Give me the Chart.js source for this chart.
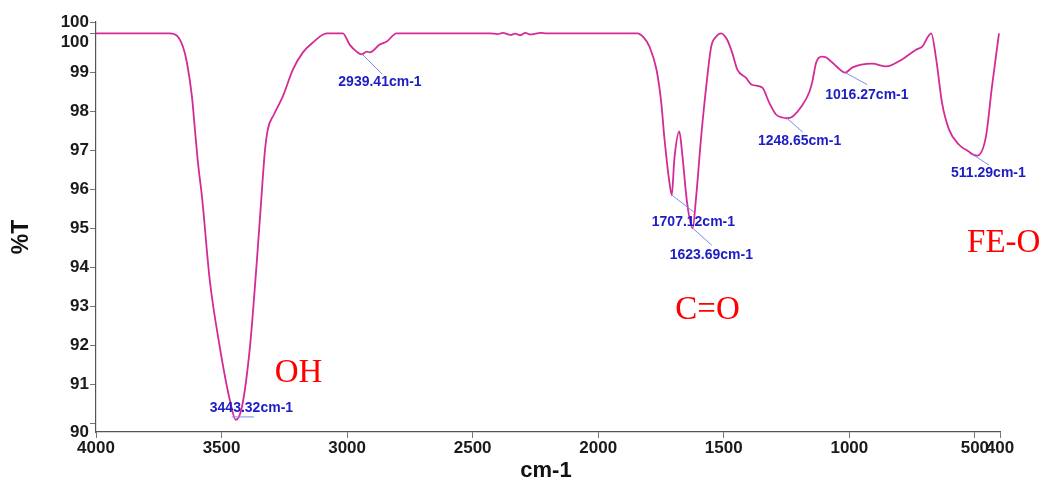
<!DOCTYPE html>
<html>
<head>
<meta charset="utf-8">
<script src="https://cdn.jsdelivr.net/npm/chart.js@4/dist/chart.umd.min.js"></script>
<style>
  html, body { margin: 0; padding: 0; background: #fff; }
  #wrap { width: 1047px; height: 480px; position: relative; }
</style>
</head>
<body>
<div id="wrap"><canvas id="ftir"></canvas></div>
<script>
// spectrum: wavenumber (cm-1) and transmittance (%T)
const wavenumbers = [4000, 3800, 3706, 3678, 3654, 3638, 3618, 3606, 3594, 3586, 3578, 3547, 3507, 3467, 3443,
  3419, 3387, 3360, 3340, 3328, 3316, 3292, 3256, 3216, 3176, 3137, 3081, 3017, 2990, 2962, 2942, 2922, 2910,
  2870, 2842, 2803, 2600, 2432, 2400, 2380, 2350, 2330, 2310, 2290, 2270, 2250, 2230, 2206, 2000, 1844,
  1820, 1796, 1768, 1749, 1737, 1717, 1707, 1697, 1677, 1666, 1646, 1624, 1610, 1590, 1570, 1550, 1531, 1511,
  1487, 1467, 1446, 1412, 1388, 1347, 1319, 1291, 1267, 1249, 1227, 1191, 1160, 1148, 1132, 1110, 1092, 1068,
  1028, 1016, 989, 909, 853, 790, 734, 710, 674, 654, 631, 603, 563, 523, 511, 491, 456, 432, 404];
const transmittance = [100.0, 100.0, 100.0, 99.94, 99.66, 99.25, 98.38, 97.53, 96.68, 96.24, 95.81, 93.67, 91.95, 90.59, 90.08,
  90.41, 91.95, 94.11, 95.9, 96.94, 97.53, 97.91, 98.38, 99.07, 99.51, 99.76, 100.0, 100.0, 99.71, 99.53, 99.46, 99.53, 99.51,
  99.71, 99.79, 100.0, 100.0, 100.0, 99.98, 100.01, 99.96, 99.99, 99.95, 100.01, 99.97, 99.99, 100.01, 100.0, 100.0, 100.0,
  99.9, 99.66, 99.07, 98.22, 97.35, 96.2, 95.85, 96.76, 97.48, 96.94, 95.65, 95.0, 95.81, 97.35, 98.63, 99.66, 99.91, 100.0,
  99.84, 99.51, 99.07, 98.86, 98.68, 98.61, 98.22, 97.91, 97.84, 97.82, 97.86, 98.12, 98.48, 98.74, 99.25, 99.4, 99.38, 99.25,
  99.02, 98.99, 99.12, 99.22, 99.15, 99.33, 99.58, 99.66, 100.0, 99.33, 98.22, 97.53, 97.14, 96.96, 96.9, 96.86, 97.35, 98.63, 100.0];

const xTicks = [4000, 3500, 3000, 2500, 2000, 1500, 1000, 500, 400];
const yTicks = [90, 91, 92, 93, 94, 95, 96, 97, 98, 99, 100, 100.29];

// peak labels
const peakWn = [3443.32, 2939.41, 1707.12, 1623.69, 1248.65, 1016.27, 511.29];
const peakT = [90.08, 99.46, 95.85, 95.0, 97.82, 98.99, 96.9];
const peakText = ['3443.32cm-1', '2939.41cm-1', '1707.12cm-1', '1623.69cm-1', '1248.65cm-1', '1016.27cm-1', '511.29cm-1'];

// group labels
const groupText = ['OH', 'C=O', 'FE-O'];
const groupWn = [3288, 1693, 531];
const groupT = [91.28, 92.9, 94.62];

// leader end (dx, dy) and text start (dx, dy) relative to the peak, in px
const peakOffsets = [[18, -3, -26, -12], [20, 20, -24, 28], [22, 17, -20, 27], [19, 17, -23, 27],
  [16, 14, -29, 23], [22, 12, -20, 22], [17, 11, -21, 19]];

const guides = {
  id: 'guides',
  afterDatasetsDraw(chart) {
    const { ctx, scales: { x, y } } = chart;
    ctx.save();
    ctx.textBaseline = 'middle';
    ctx.textAlign = 'left';
    peakWn.forEach((wn, i) => {
      const px = x.getPixelForValue(wn);
      const py = y.getPixelForValue(peakT[i]);
      const o = peakOffsets[i];
      ctx.strokeStyle = '#7d8df2';
      ctx.lineWidth = 1;
      ctx.beginPath();
      if (i === 0) {
        ctx.moveTo(px - 4, py + o[1]);
        ctx.lineTo(px + o[0], py + o[1]);
      } else {
        ctx.moveTo(px, py);
        ctx.lineTo(px + o[0], py + o[1]);
      }
      ctx.stroke();
      ctx.fillStyle = '#1d1dc4';
      ctx.font = 'bold 14px "Liberation Sans", Arial, sans-serif';
      ctx.fillText(peakText[i], px + o[2], py + o[3]);
    });
    ctx.fillStyle = '#ff0000';
    ctx.font = '33px "Liberation Serif", "Times New Roman", serif';
    groupText.forEach((t, i) => {
      ctx.fillText(t, x.getPixelForValue(groupWn[i]), y.getPixelForValue(groupT[i]));
    });
    // axis titles
    ctx.fillStyle = '#111';
    ctx.textAlign = 'center';
    ctx.font = 'bold 22px "Liberation Sans", Arial, sans-serif';
    ctx.fillText('cm-1', 546, 471);
    ctx.translate(22, 237);
    ctx.rotate(-Math.PI / 2);
    ctx.font = 'bold 23px "Liberation Sans", Arial, sans-serif';
    ctx.fillText('%T', 0, 0);
    ctx.restore();
  }
};

const tickFont = { family: '"Liberation Sans", Arial, sans-serif', size: 17, weight: 'bold', lineHeight: 1.05 };

// the lower 100 and the 90 label sit a little under their ticks in the original
const yLabel = v => {
  if (v === 100 || v === 90) return ['', String(v)];
  return String(Math.round(v));
};

new Chart(document.getElementById('ftir'), {
  type: 'line',
  data: {
    datasets: [{
      data: wavenumbers.map((w, i) => ({ x: w, y: transmittance[i] })),
      borderColor: '#d42a96',
      borderWidth: 1.8,
      pointRadius: 0,
      cubicInterpolationMode: 'monotone',
      fill: false
    }]
  },
  options: {
    responsive: true,
    maintainAspectRatio: false,
    animation: false,
    layout: { padding: { top: 22, right: 47, left: 0, bottom: 0 } },
    plugins: { legend: { display: false }, tooltip: { enabled: false } },
    scales: {
      x: {
        type: 'linear',
        reverse: true,
        min: 400,
        max: 4000,
        afterBuildTicks: s => { s.ticks = xTicks.map(v => ({ value: v })); },
        afterFit: s => { s.height = 48; },
        ticks: { autoSkip: false, maxRotation: 0, color: '#1a1a1a', font: tickFont, padding: 1, callback: v => String(v) },
        grid: { drawOnChartArea: false, tickLength: 6, color: '#777' },
        border: { color: '#555', width: 1.2 }
      },
      y: {
        min: 89.77,
        max: 100.29,
        afterBuildTicks: s => { s.ticks = yTicks.map(v => ({ value: v })); },
        afterFit: s => { s.width = 96; },
        ticks: { autoSkip: false, color: '#1a1a1a', font: tickFont, padding: 1, callback: yLabel },
        grid: { drawOnChartArea: false, tickLength: 6, color: '#777' },
        border: { color: '#555', width: 1.2 }
      }
    }
  },
  plugins: [guides]
});
</script>
</body>
</html>
